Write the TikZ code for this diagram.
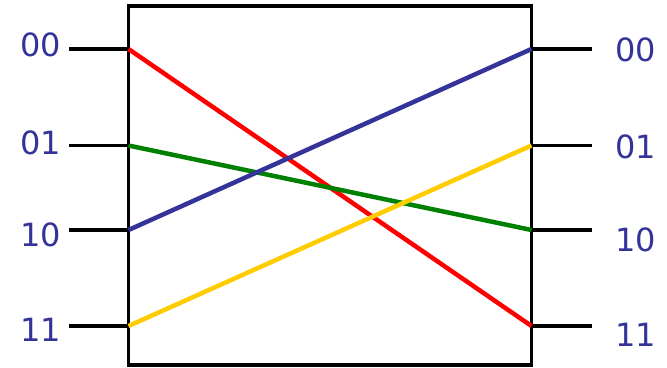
\documentclass[tikz,border=0pt]{standalone}
\usepackage{fontspec}
\setmainfont{DejaVu Sans}
\usetikzlibrary{positioning,calc}
\definecolor{ink}{HTML}{333399}
\definecolor{wirered}{HTML}{FF0000}
\definecolor{wireblue}{HTML}{333399}
\definecolor{wiregreen}{HTML}{008000}
\definecolor{wireyellow}{HTML}{FFCC00}

\begin{document}
\begin{tikzpicture}[x=1pt, y=-1pt, font=\fontsize{32}{34}\selectfont,
    stub/.style={line width=3.5pt},
    wire/.style={line width=4.5pt},
    lbl/.style={text=ink, inner sep=0pt, anchor=center}]
    \useasboundingbox (0,0) rectangle (667,367);
    \node[draw, line width=3.5pt, minimum width=403pt, minimum height=359pt, inner sep=0pt] (box) at (330,185.5) {};
    \foreach \lab/\y/\ly/\ry in {00/49/45/50, 01/145.5/142.5/147, 10/230/234.5/239.5, 11/326/330/335} {
      \coordinate (L\lab) at (128.5,\y);
      \coordinate (R\lab) at (531.5,\y);
      \coordinate (ls\lab) at (69,\y);
      \coordinate (rs\lab) at (592,\y);
      \node[lbl] (nl\lab) at (41,\ly) {\lab};
      \node[lbl] (nr\lab) at (636,\ry) {\lab};
      \draw[stub] (ls\lab) -- (L\lab);
      \draw[stub] (R\lab) -- (rs\lab);
    }
    \draw[wire, wirered] (L00) -- (R11);
    \draw[wire, wiregreen] (L01) -- (R10);
    \draw[wire, wireblue] (L10) -- (R00);
    \draw[wire, wireyellow] (L11) -- (R01);
  \end{tikzpicture}
\end{document}
